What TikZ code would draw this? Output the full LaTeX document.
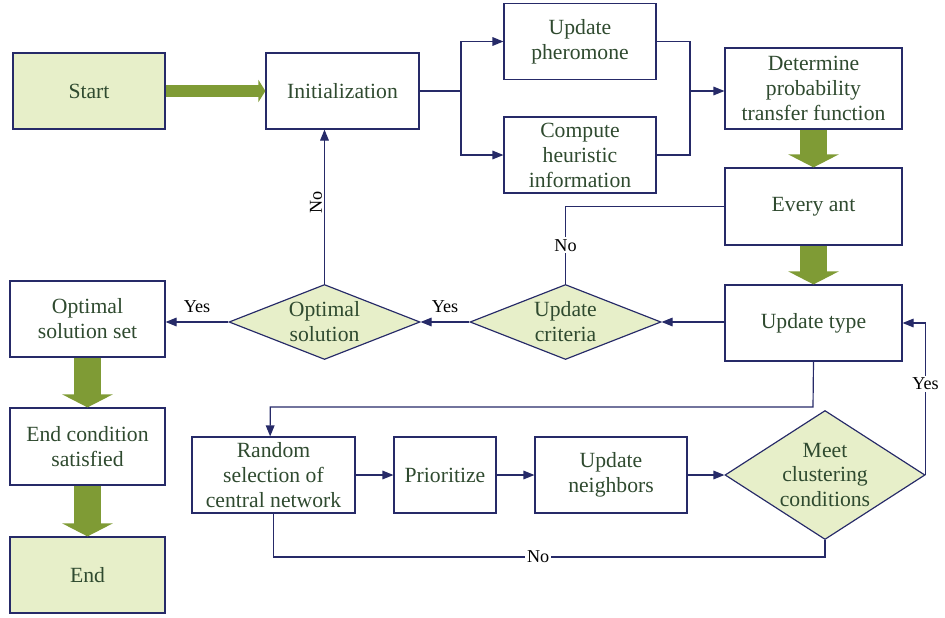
\documentclass[tikz,border=0pt]{standalone}
\usepackage{fontspec}
\setmainfont{Liberation Serif}
\usepackage{tikz}
\usetikzlibrary{arrows.meta,positioning,shapes.geometric}
\definecolor{navy}{HTML}{262A68}
\definecolor{txtgreen}{HTML}{2F4A2F}
\definecolor{paleg}{HTML}{E7EFC9}
\definecolor{olive}{HTML}{7F9B35}

\begin{document}
\begin{tikzpicture}[x=0.03cm,y=-0.03cm,
  every node/.style={font=\fontsize{18.5}{21.3}\selectfont},
  box/.style={rectangle,draw=navy,line width=1pt,minimum width=4.56cm,minimum height=2.28cm,inner sep=1pt,align=center,text=txtgreen},
  gbox/.style={box,fill=paleg},
  choice/.style={diamond,draw=navy,line width=1pt,fill=paleg,inner sep=0pt,minimum width=5.73cm,minimum height=2.25cm,aspect=2.55,align=center,text=txtgreen},
  link/.style={draw=navy,line width=1pt,-{Triangle[length=3.3mm,width=2.6mm]}},
  line/.style={draw=navy,line width=1pt},
  lab/.style={font=\fontsize{15.5}{18}\selectfont,text=black,inner sep=1.5pt},
  bigdown/.style={draw=olive,line width=0.81cm,-{Triangle[length=0.39cm,width=1.5cm]}},
  bigright/.style={draw=olive,line width=0.36cm,-{Triangle[length=0.21cm,width=0.66cm]}}]
\useasboundingbox (0,0) rectangle (945,618);
% top row
\node[gbox] (start) at (89,91) {Start};
\node[box,minimum width=4.59cm] (init) at (342.5,91) {Initialization};
\node[box] (pher) at (580,41.5) {Update\\pheromone};
\node[box] (heur) at (580,155) {Compute\\heuristic\\information};
\node[box,minimum width=5.31cm,minimum height=2.43cm] (prob) at (813.5,88.5) {Determine\\probability\\transfer function};
\node[box,minimum width=5.31cm,minimum height=2.31cm] (ant) at (813.5,206.5) {Every ant};
\node[box,minimum width=5.31cm] (utype) at (813.5,323) {Update type};
% middle row
\node[choice] (crit) at (565.5,322) {Update\\criteria};
\node[choice] (opt) at (324.5,322) {Optimal\\solution};
\node[box,minimum width=4.65cm] (oset) at (87.5,319) {Optimal\\solution set};
\node[box,minimum width=4.65cm,minimum height=2.31cm] (endc) at (87.5,446.5) {End condition\\satisfied};
\node[gbox,minimum width=4.65cm] (fin) at (87.5,575) {End};
% bottom row
\node[box,minimum width=4.89cm] (rand) at (273.5,475) {Random\\selection of\\central network};
\node[box,minimum width=3.06cm] (prio) at (445,475) {Prioritize};
\node[box] (nbr) at (611,475) {Update\\neighbors};
\node[choice,minimum width=6cm,minimum height=3.87cm,aspect=1.55] (meet) at (825,475) {Meet\\clustering\\conditions};
\coordinate (split) at (461,91);
\coordinate (join) at (690,91);
\coordinate (drop) at (813,407);
\coordinate (back) at (825,557);
% connectors
\draw[bigright] (start.east) -- (init.west);
\draw[line] (init.east) -- (split);
\draw[link] (split) |- (pher.west);
\draw[link] (split) |- (heur.west);
\draw[line] (pher.east) -| (join);
\draw[line] (heur.east) -| (join);
\draw[link] (join) -- (join -| prob.west);
\draw[bigdown] (prob.south) -- (ant.north);
\draw[bigdown] (ant.south) -- (utype.north);
\draw[line] (ant.west) -| node[lab,pos=0.75,fill=white]{No} (crit.north);
\draw[link] (crit.east -| utype.west) -- (crit.east);
\draw[link] (crit.west) -- node[lab,above=6pt]{Yes} (opt.east);
\draw[link] (opt.west) -- node[lab,above=6pt]{Yes} (opt.west -| oset.east);
\draw[link] (opt.north) -- node[lab,above=4pt,rotate=90]{No} (opt.north |- init.south);
\draw[bigdown] (oset.south) -- (endc.north);
\draw[bigdown] (endc.south) -- (fin.north);
\draw[link] (utype.south) -- (drop) -| ([xshift=-0.1cm]rand.north);
\draw[link] (rand) -- (prio);
\draw[link] (prio) -- (nbr);
\draw[link] (nbr.east) -- (meet.west);
\draw[link] (meet.east) |- node[lab,pos=0.3,fill=white]{Yes} (utype.east);
\draw[line] (meet.south) -- (back) -| node[lab,pos=0.26,fill=white]{No} (rand.south);
\end{tikzpicture}
\end{document}
